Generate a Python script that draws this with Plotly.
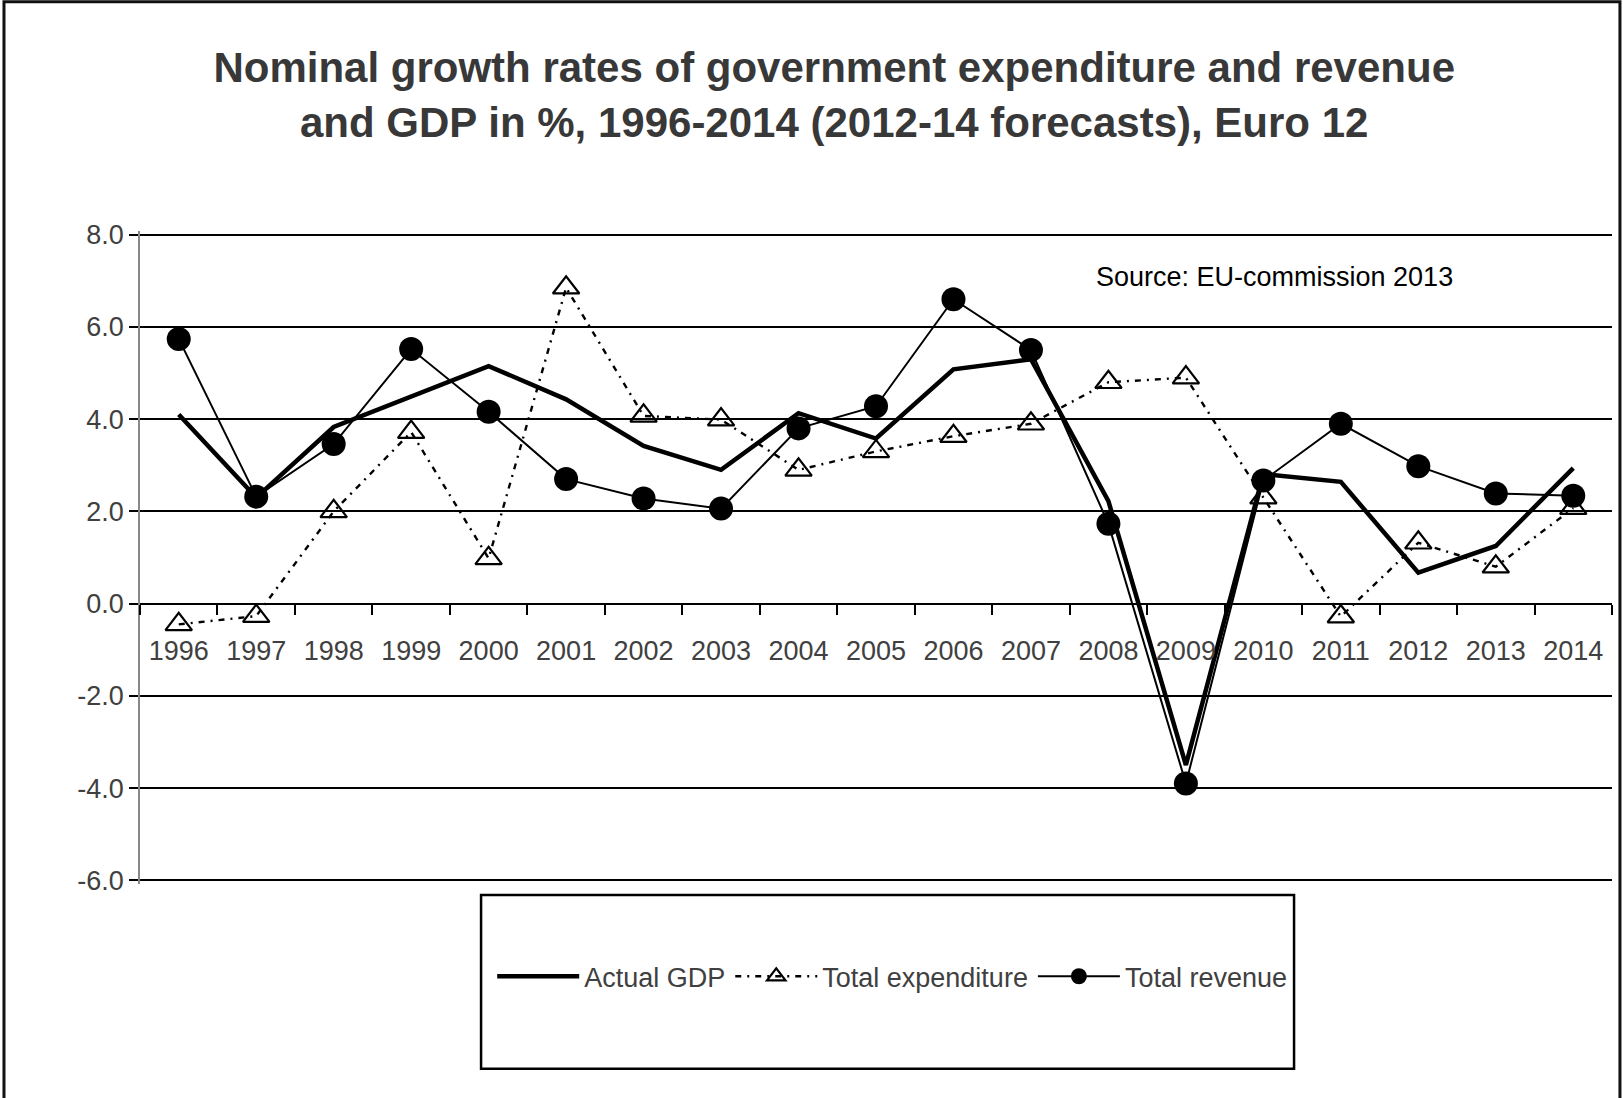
import plotly.graph_objects as go

years = [str(y) for y in range(1996, 2015)]
gdp = [4.1, 2.3, 3.83, 4.5, 5.15, 4.43, 3.42, 2.9, 4.13, 3.58, 5.08, 5.3, 2.22, -3.5,
       2.81, 2.64, 0.67, 1.25, 2.94]
expenditure = [-0.45, -0.27, 2.0, 3.72, 0.98, 6.85, 4.07, 3.99, 2.9, 3.3, 3.63, 3.9, 4.8,
               4.9, 2.3, -0.28, 1.32, 0.8, 2.07]
revenue = [5.74, 2.32, 3.46, 5.52, 4.16, 2.7, 2.28, 2.06, 3.8, 4.28, 6.6, 5.5, 1.73, -3.9,
           2.67, 3.9, 2.98, 2.39, 2.34]
y_ticks = [8, 6, 4, 2, 0, -2, -4, -6]
y_tick_text = ["8.0", "6.0", "4.0", "2.0", "0.0", "-2.0", "-4.0", "-6.0"]

FONT = "Liberation Sans, Arial, sans-serif"
GRAY = "#404040"
Y_MIN, Y_MAX = -6.08, 8.08

fig = go.Figure()
fig.add_trace(go.Scatter(
    x=years, y=gdp, name="Actual GDP", mode="lines",
    line=dict(color="black", width=4.5),
))
fig.add_trace(go.Scatter(
    x=years, y=expenditure, name="Total expenditure", mode="lines+markers",
    line=dict(color="black", width=2.4, dash="6px,6px,2px,6px"),
    marker=dict(symbol="triangle-up-open", size=23, color="black",
                line=dict(color="black", width=2.2)),
))
fig.add_trace(go.Scatter(
    x=years, y=revenue, name="Total revenue", mode="lines+markers",
    line=dict(color="black", width=2),
    marker=dict(symbol="circle", size=24, color="black"),
))

# outer frame and legend box
fig.add_shape(type="rect", xref="paper", yref="paper",
              x0=-0.0924, x1=1.0054, y0=-0.36, y1=1.351,
              line=dict(color="#111111", width=3), fillcolor="rgba(0,0,0,0)", layer="below")
fig.add_shape(type="rect", xref="paper", yref="paper",
              x0=0.2317, x1=0.784, y0=-0.283, y1=-0.017,
              line=dict(color="black", width=2.5), fillcolor="rgba(0,0,0,0)")

fig.add_annotation(text="Source: EU-commission 2013", xref="paper", yref="paper",
                   x=0.648, y=0.930, xanchor="left", yanchor="middle", showarrow=False,
                   font=dict(family=FONT, size=27, color="black"))

fig.update_layout(
    width=1623, height=1098,
    margin=dict(l=140, r=11, t=231, b=214),
    paper_bgcolor="white", plot_bgcolor="white",
    title=dict(
        text="<b>Nominal growth rates of government expenditure and revenue<br>"
             "and GDP in %, 1996-2014 (2012-14 forecasts), Euro 12</b>",
        x=0.514, xanchor="center", y=0.925, yanchor="middle", yref="container",
        font=dict(family=FONT, size=42, color="#383838"),
    ),
    font=dict(family=FONT, size=27, color=GRAY),
    showlegend=True,
    legend=dict(orientation="h", x=0.511, xanchor="center", y=-0.142, yanchor="middle",
                font=dict(family=FONT, size=27, color=GRAY),
                bgcolor="rgba(0,0,0,0)", itemwidth=82),
    xaxis=dict(
        type="category", range=[-0.5, 18.5],
        anchor="free", position=(0 - Y_MIN) / (Y_MAX - Y_MIN),
        showline=True, linecolor="black", linewidth=2,
        ticks="outside", tickson="boundaries", ticklen=10, tickwidth=2, tickcolor="black",
        showgrid=False, ticklabelstandoff=23,
        tickfont=dict(family=FONT, size=27, color=GRAY),
    ),
    yaxis=dict(
        range=[Y_MIN, Y_MAX], tickvals=y_ticks, ticktext=y_tick_text,
        showgrid=True, gridcolor="black", gridwidth=2.2,
        showline=True, linecolor="#888888", linewidth=1.5,
        ticks="outside", ticklen=9, tickwidth=2, tickcolor="black",
        zeroline=False,
        tickfont=dict(family=FONT, size=27, color=GRAY),
    ),
)

fig.write_html("out.html")
